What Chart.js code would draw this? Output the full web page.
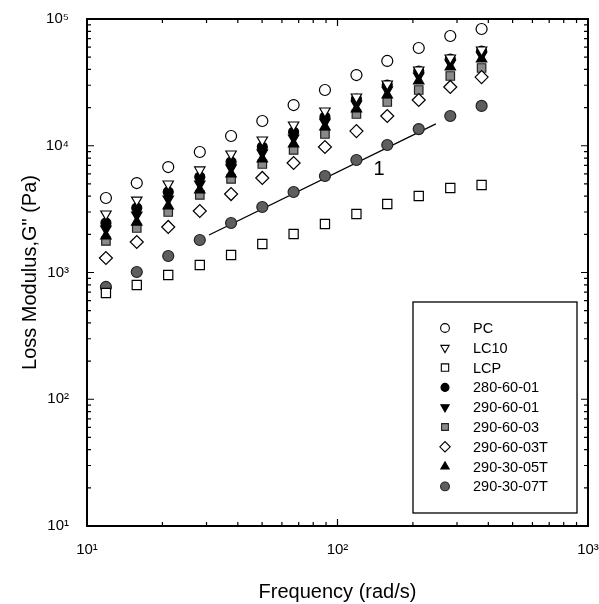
<!DOCTYPE html>
<html>
<head>
<meta charset="utf-8">
<script src="https://cdn.jsdelivr.net/npm/chart.js@4/dist/chart.umd.min.js"></script>
<style>
  html, body { margin: 0; padding: 0; background: #fff; }
  canvas { display: block; }
</style>
</head>
<body>
<canvas id="chart" width="599" height="604"></canvas>
<script>
// frequency (rad/s), same for every sample
const freq = [11.9, 15.8, 21.1, 28.2, 37.6, 50.1, 66.8, 89.1, 119, 158, 211, 282, 376];

// loss modulus G'' (Pa)
const pc       = [3870, 5080, 6790, 8930, 11940, 15680, 20950, 27540, 36130, 46650, 59050, 73460, 83400];
const lc10     = [2895, 3730, 4990, 6440, 8610, 11100, 14580, 18800, 24240, 30700, 39590, 49250, 56930];
const lcp      = [689, 796, 955, 1145, 1374, 1678, 2013, 2415, 2897, 3470, 4015, 4645, 4900];
const s2806001 = [2460, 3230, 4320, 5670, 7440, 9770, 12840, 16860, 23380, 30150, 38880, 48360, 55900];
const s2906001 = [2204, 2840, 3800, 4990, 6680, 8770, 11510, 15400, 21350, 27530, 35510, 44960, 52000];
const s2906003 = [1773, 2245, 3000, 4090, 5470, 7180, 9260, 12380, 17800, 22140, 27530, 35510, 41060];
const s2906003T = [1301, 1741, 2287, 3057, 4160, 5570, 7310, 9780, 13060, 17170, 22950, 29100, 34800];
const s2903005T = [1941, 2500, 3350, 4480, 5990, 7860, 10320, 14060, 19490, 25140, 32420, 41810, 48360];
const s2903007T = [769, 1009, 1349, 1804, 2458, 3288, 4318, 5770, 7720, 10140, 13540, 17170, 20620];

// slope-1 guide line and its label
const slopeLineX = [30.7, 247];
const slopeLineY = [1977, 14860];
const slopeLabel = { x: 146.6, y: 6440, text: '1' };

const xTicks = [10, 100, 1000];
const xTickLabels = ['10\u00b9', '10\u00b2', '10\u00b3'];
const yTicks = [10, 100, 1000, 10000, 100000];
const yTickLabels = ['10\u00b9', '10\u00b2', '10\u00b3', '10\u2074', '10\u2075'];

const FONT = '"Liberation Sans", Arial, sans-serif';

const pts = (ys) => freq.map((x, i) => ({ x, y: ys[i] }));

function series(label, ys, style, fill, extra) {
    return Object.assign({
        type: 'scatter',
        label,
        data: pts(ys),
        pointStyle: style,
        pointRadius: 5,
        pointBackgroundColor: fill,
        pointBorderColor: '#000',
        pointBorderWidth: 1.2,
        showLine: false,
    }, extra || {});
}

const datasets = [
    series('PC', pc, 'circle', '#fff', { pointRadius: 5.5 }),
    series('LC10', lc10, 'triangle', '#fff', { pointRadius: 6, pointRotation: 180 }),
    series('LCP', lcp, 'rect', '#fff', { pointRadius: 6.5 }),
    series('290-60-03T', s2906003T, 'rectRot', '#fff', { pointRadius: 6.5 }),
    series('280-60-01', s2806001, 'circle', '#000', { pointRadius: 5 }),
    series('290-60-01', s2906001, 'triangle', '#000', { pointRadius: 6, pointRotation: 180 }),
    series('290-30-05T', s2903005T, 'triangle', '#000', { pointRadius: 6 }),
    series('290-60-03', s2906003, 'rect', '#8a8a8a', { pointRadius: 6, pointBorderColor: '#222' }),
    series('290-30-07T', s2903007T, 'circle', '#5e5e5e', { pointRadius: 5.5, pointBorderColor: '#222' }),
    {
        type: 'line',
        label: 'slope',
        data: slopeLineX.map((x, i) => ({ x, y: slopeLineY[i] })),
        borderColor: '#000',
        borderWidth: 1.3,
        pointRadius: 0,
        fill: false,
    },
];

const legendOrder = ['PC', 'LC10', 'LCP', '280-60-01', '290-60-01', '290-60-03', '290-60-03T', '290-30-05T', '290-30-07T'];

const framePlugin = {
    id: 'frame',
    afterDatasetsDraw(chart) {
        const { ctx, chartArea: a, scales } = chart;
        ctx.save();
        ctx.strokeStyle = '#000';

        // ticks pointing inward on all four sides
        ctx.lineWidth = 1.2;
        ctx.beginPath();
        for (let d = 1; d < 3; d++) {
            for (let k = 1; k < 10; k++) {
                const v = k * Math.pow(10, d);
                const px = scales.x.getPixelForValue(v);
                const len = k === 1 ? 7 : 4;
                ctx.moveTo(px, a.bottom); ctx.lineTo(px, a.bottom - len);
                ctx.moveTo(px, a.top); ctx.lineTo(px, a.top + len);
            }
        }
        for (let d = 1; d < 5; d++) {
            for (let k = 1; k < 10; k++) {
                const v = k * Math.pow(10, d);
                const py = scales.y.getPixelForValue(v);
                const len = k === 1 ? 7 : 4;
                ctx.moveTo(a.left, py); ctx.lineTo(a.left + len, py);
                ctx.moveTo(a.right, py); ctx.lineTo(a.right - len, py);
            }
        }
        ctx.stroke();

        ctx.lineWidth = 2;
        ctx.strokeRect(a.left, a.top, a.right - a.left, a.bottom - a.top);

        // slope label
        ctx.fillStyle = '#000';
        ctx.font = '20px ' + FONT;
        ctx.textAlign = 'center';
        ctx.textBaseline = 'middle';
        ctx.fillText(slopeLabel.text, scales.x.getPixelForValue(slopeLabel.x), scales.y.getPixelForValue(slopeLabel.y));

        // legend box
        const bx = 413, by = 302, bw = 164, bh = 211;
        ctx.fillStyle = '#fff';
        ctx.fillRect(bx, by, bw, bh);
        ctx.lineWidth = 1.3;
        ctx.strokeRect(bx, by, bw, bh);
        ctx.font = '14.5px ' + FONT;
        ctx.textAlign = 'left';
        legendOrder.forEach((name, i) => {
            const ds = chart.data.datasets.find((d) => d.label === name);
            const y = by + 26 + i * 19.8;
            ctx.fillStyle = ds.pointBackgroundColor;
            ctx.strokeStyle = ds.pointBorderColor;
            ctx.lineWidth = 1.1;
            Chart.helpers.drawPoint(ctx, {
                pointStyle: ds.pointStyle,
                radius: ds.pointRadius * 0.8,
                rotation: ds.pointRotation || 0,
                borderWidth: 1.1,
            }, 445, y);
            ctx.fillStyle = '#000';
            ctx.fillText(name, 473, y + 1);
        });
        ctx.restore();
    },
};

new Chart(document.getElementById('chart'), {
    data: { datasets },
    options: {
        responsive: false,
        animation: false,
        layout: { padding: { left: 0, right: 11, top: 19, bottom: 0 } },
        plugins: { legend: { display: false }, tooltip: { enabled: false } },
        scales: {
            x: {
                type: 'logarithmic',
                min: 10,
                max: 1000,
                grid: { display: false },
                border: { display: false },
                afterBuildTicks: (s) => { s.ticks = xTicks.map((v) => ({ value: v })); },
                afterFit: (s) => { s.height = 78; s.paddingLeft = 0; s.paddingRight = 0; },
                ticks: {
                    autoSkip: false,
                    maxRotation: 0,
                    padding: 7,
                    color: '#000',
                    font: { size: 15, family: FONT },
                    callback: (v) => xTickLabels[xTicks.indexOf(v)],
                },
                title: {
                    display: true,
                    text: 'Frequency (rad/s)',
                    color: '#000',
                    font: { size: 20, family: FONT },
                    padding: { top: 0, bottom: 0 },
                },
            },
            y: {
                type: 'logarithmic',
                min: 10,
                max: 100000,
                grid: { display: false },
                border: { display: false },
                afterBuildTicks: (s) => { s.ticks = yTicks.map((v) => ({ value: v })); },
                afterFit: (s) => { s.width = 87; s.paddingTop = 0; s.paddingBottom = 0; },
                ticks: {
                    autoSkip: false,
                    padding: 10,
                    color: '#000',
                    font: { size: 15, family: FONT },
                    callback: (v) => yTickLabels[yTicks.indexOf(v)],
                },
                title: {
                    display: true,
                    text: 'Loss Modulus,G" (Pa)',
                    color: '#000',
                    font: { size: 20, family: FONT },
                    padding: { top: 18, bottom: 0 },
                },
            },
        },
    },
    plugins: [framePlugin],
});
</script>
</body>
</html>
